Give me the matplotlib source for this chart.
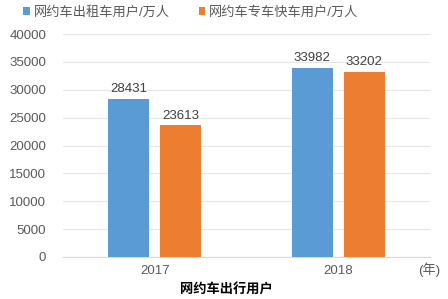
import numpy as np
import matplotlib
matplotlib.use('Agg')
import matplotlib.pyplot as plt

plt.rcParams['font.family'] = ['Liberation Sans', 'Noto Sans CJK SC', 'DejaVu Sans']

years = ['2017', '2018']
taxi_users = [28431, 33982]
ride_users = [23613, 33202]
series_names = ['网约车出租车用户/万人', '网约车专车快车用户/万人']
yticks = [0, 5000, 10000, 15000, 20000, 25000, 30000, 35000, 40000]

fig = plt.figure(figsize=(4.48, 2.99), dpi=100)
ax = fig.add_axes([0.1406, 0.1405, 0.8194, 0.7455])

x = np.arange(len(years))
w = 0.224
off = 0.142
b1 = ax.bar(x - off, taxi_users, w, color='#5B9BD5', label=series_names[0], zorder=3)
b2 = ax.bar(x + off, ride_users, w, color='#ED7D31', label=series_names[1], zorder=3)

for bars in (b1, b2):
    for r in bars:
        ax.text(r.get_x() + r.get_width() / 2, r.get_height() + 700, str(int(r.get_height())),
                ha='center', va='bottom', fontsize=9.5, color='#404040')

ax.set_xlim(-0.5, 1.5)
ax.set_ylim(0, 40000)
ax.set_yticks(yticks)
ax.set_xticks(x)
ax.set_xticklabels(years)
ax.tick_params(axis='both', length=0, labelsize=9.5, colors='#595959')
ax.tick_params(axis='y', pad=12)
ax.tick_params(axis='x', pad=6)
ax.yaxis.grid(True, color='#E6E6E6', linewidth=0.8, zorder=0)
for s in ['top', 'right', 'left']:
    ax.spines[s].set_visible(False)
ax.spines['bottom'].set_color('#D9D9D9')

fig.text(0.982, 0.098, '(年)', fontsize=9.5, color='#595959', ha='right', va='center')
fig.text(0.505, 0.028, '网约车出行用户', fontsize=9.5, fontweight='bold', color='#000000',
         ha='center', va='center')

leg = fig.legend(loc='upper left', bbox_to_anchor=(0.025, 1.02), ncol=2, frameon=False,
                 fontsize=9.5, handlelength=0.5, handleheight=0.5, handletextpad=0.3,
                 columnspacing=2.2, labelcolor='#595959')

fig.savefig('out.png', dpi=100)
